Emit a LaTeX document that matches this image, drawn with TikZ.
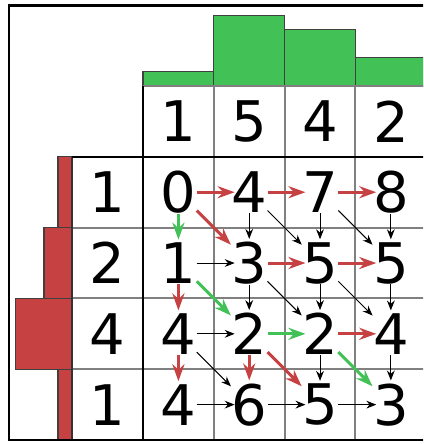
\documentclass[tikz,border=0pt]{standalone}
\usepackage{fontspec}
\setmainfont{DejaVu Sans}
\usetikzlibrary{arrows.meta}
\definecolor{BarGreen}{HTML}{42C157}
\definecolor{BarRed}{HTML}{C64242}
\definecolor{GridGray}{HTML}{808080}
\tikzset{
  num/.style={
    font=\fontsize{22.5}{22.5}\selectfont, inner sep=0pt,
    minimum width=0.46cm, minimum height=0.52cm
  },
  bar/.style={draw=black!75, line width=0.5pt},
  thinline/.style={draw=GridGray, line width=0.8pt},
  thickline/.style={draw=black, line width=1pt},
  thinflow/.style={-{Stealth[length=1.4mm,width=1.1mm]}, line width=0.4pt, draw=black},
  redflow/.style={-{Stealth[length=2.4mm,width=1.7mm]}, line width=1.2pt, draw=BarRed},
  greenflow/.style={-{Stealth[length=2.4mm,width=1.7mm]}, line width=1.2pt, draw=BarGreen}
}

\begin{document}
\begin{tikzpicture}
    \useasboundingbox (-2.02,-0.056) rectangle (3.955,6.215);
    \clip (-2.02,-0.056) rectangle (3.955,6.215);
    % bars
    \foreach \j/\v in {0/1,1/5,2/4,3/2}
      \filldraw[bar,fill=BarGreen] (\j,5) rectangle (\j+1,5+\v/5);
    \foreach \i/\v in {0/1,1/2,2/4,3/1}
      \filldraw[bar,fill=BarRed] (-1,3-\i) rectangle (-1-\v/5,4-\i);
    % grid
    \foreach \k in {1,2,3} {
      \draw[thinline] (\k,0) -- (\k,5);
      \draw[thinline] (-1,\k) -- (4.2,\k);
    }
    \draw[thinline] (0,5) -- (4.2,5);
    \draw[draw=black!80,line width=0.6pt] (-1,0) -- (-1,4);
    \draw[thickline] (0,0) -- (0,5);
    \draw[thickline] (-1,4) -- (4.2,4);
    \draw[thickline] (-1.89,0) rectangle (4.3,6.14);
    % labels
    \foreach \j/\v in {0/1,1/5,2/4,3/2}
      \node[num] (h-\j) at (\j+0.5,4.5) {\v};
    \foreach \i/\v in {0/1,1/2,2/4,3/1}
      \node[num] (r-\i) at (-0.5,3.5-\i) {\v};
    % table
    \foreach \r/\vals in {0/{0,4,7,8},1/{1,3,5,5},2/{4,2,2,4},3/{4,6,5,3}}
      \foreach \v [count=\c from 0] in \vals
        \node[num] (n-\r-\c) at (\c+0.5,3.5-\r) {\v};
    % right
    \foreach \r/\c/\s in {0/0/redflow,0/1/redflow,0/2/redflow,
                          1/0/thinflow,1/1/redflow,1/2/redflow,
                          2/0/thinflow,2/1/greenflow,2/2/redflow,
                          3/0/thinflow,3/1/thinflow,3/2/thinflow} {
      \pgfmathtruncatemacro\cn{\c+1}
      \draw[\s,shorten >=-1.5pt] (n-\r-\c) -- (n-\r-\cn);
    }
    % down
    \foreach \r/\c/\s in {0/0/greenflow,1/0/redflow,2/0/redflow,
                          0/1/thinflow,1/1/thinflow,2/1/redflow,
                          0/2/thinflow,1/2/thinflow,2/2/thinflow,
                          0/3/thinflow,1/3/thinflow,2/3/thinflow} {
      \pgfmathtruncatemacro\rn{\r+1}
      \draw[\s,shorten >=1pt] (n-\r-\c) -- (n-\rn-\c);
    }
    % diagonal
    \foreach \r/\c/\s in {0/0/redflow,0/1/thinflow,0/2/thinflow,
                          1/0/greenflow,1/1/thinflow,1/2/thinflow,
                          2/0/thinflow,2/1/redflow,2/2/greenflow} {
      \pgfmathtruncatemacro\rn{\r+1}
      \pgfmathtruncatemacro\cn{\c+1}
      \draw[\s] (n-\r-\c) -- (n-\rn-\cn);
    }
\end{tikzpicture}
\end{document}
